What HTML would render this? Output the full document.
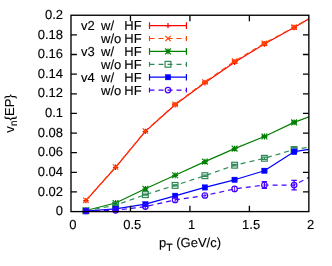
<!DOCTYPE html><html><head><meta charset="utf-8"><style>html,body{margin:0;padding:0;background:#fff;}svg{display:block;will-change:transform;}text{text-rendering:geometricPrecision;stroke:#000;stroke-width:0.12px;font-family:"Liberation Sans",sans-serif;fill:#000;}</style></head><body>
<svg width="332" height="266" viewBox="0 0 332 266" font-size="13.0">
<rect width="332" height="266" fill="#fff"/>
<text x="63.0" y="215.30" text-anchor="end">0</text>
<text x="63.0" y="195.66" text-anchor="end">0.02</text>
<text x="63.0" y="176.03" text-anchor="end">0.04</text>
<text x="63.0" y="156.39" text-anchor="end">0.06</text>
<text x="63.0" y="136.76" text-anchor="end">0.08</text>
<text x="63.0" y="117.12" text-anchor="end">0.1</text>
<text x="63.0" y="97.49" text-anchor="end">0.12</text>
<text x="63.0" y="77.86" text-anchor="end">0.14</text>
<text x="63.0" y="58.22" text-anchor="end">0.16</text>
<text x="63.0" y="38.59" text-anchor="end">0.18</text>
<text x="63.0" y="18.95" text-anchor="end">0.2</text>
<text x="72.75" y="228.9" text-anchor="middle">0</text>
<text x="132.21" y="228.9" text-anchor="middle">0.5</text>
<text x="191.68" y="228.9" text-anchor="middle">1</text>
<text x="251.14" y="228.9" text-anchor="middle">1.5</text>
<text x="310.60" y="228.9" text-anchor="middle">2</text>
<text x="190" y="246.8" text-anchor="middle">p<tspan dy="4.3" font-size="10.40">T</tspan><tspan dy="-4.3"> (GeV/c)</tspan></text>
<text transform="translate(13.8,113.5) rotate(-90)" text-anchor="middle">v<tspan dy="3.3" font-size="10.40">n</tspan><tspan dy="-3.3">{EP}</tspan></text>
<text x="81" y="30.00">v2</text>
<text x="101" y="30.00">w/</text>
<text x="141.7" y="30.00" text-anchor="end">HF</text>
<path d="M149.5 25.60H186.4" stroke="#ff0000" stroke-width="1.2" fill="none"/>
<path d="M149.5 22.30v6.6M186.4 22.30v6.6" stroke="#ff0000" stroke-width="1.2" fill="none"/>
<path d="M165.30 25.60H170.70M168.00 22.90V28.30" stroke="#ff0000" stroke-width="1.2" fill="none"/>
<text x="101" y="42.90">w/o</text>
<text x="141.7" y="42.90" text-anchor="end">HF</text>
<path d="M149.5 38.50H186.4" stroke="#ff4500" stroke-width="1.2" fill="none" stroke-dasharray="5 4"/>
<path d="M149.5 36.10v4.8M186.4 36.10v4.8" stroke="#ff4500" stroke-width="1.2" fill="none"/>
<path d="M165.30 35.80L170.70 41.20M165.30 41.20L170.70 35.80" stroke="#ff4500" stroke-width="1.2" fill="none"/>
<text x="81" y="55.80">v3</text>
<text x="101" y="55.80">w/</text>
<text x="141.7" y="55.80" text-anchor="end">HF</text>
<path d="M149.5 51.40H186.4" stroke="#008000" stroke-width="1.2" fill="none"/>
<path d="M149.5 48.10v6.6M186.4 48.10v6.6" stroke="#008000" stroke-width="1.2" fill="none"/>
<path d="M165.10 51.40H170.90M168.00 48.50V54.30M165.10 48.50L170.90 54.30M165.10 54.30L170.90 48.50" stroke="#008000" stroke-width="1.2" fill="none"/>
<text x="101" y="68.70">w/o</text>
<text x="141.7" y="68.70" text-anchor="end">HF</text>
<path d="M149.5 64.30H186.4" stroke="#2e8b57" stroke-width="1.2" fill="none" stroke-dasharray="5 4"/>
<path d="M149.5 61.90v4.8M186.4 61.90v4.8" stroke="#2e8b57" stroke-width="1.2" fill="none"/>
<rect x="165.10" y="61.40" width="5.80" height="5.80" stroke="#2e8b57" stroke-width="1.2" fill="none"/>
<text x="81" y="81.60">v4</text>
<text x="101" y="81.60">w/</text>
<text x="141.7" y="81.60" text-anchor="end">HF</text>
<path d="M149.5 77.20H186.4" stroke="#0000ff" stroke-width="1.2" fill="none"/>
<path d="M149.5 73.90v6.6M186.4 73.90v6.6" stroke="#0000ff" stroke-width="1.2" fill="none"/>
<rect x="165.25" y="74.45" width="5.50" height="5.50" stroke="#0000ff" stroke-width="0.3" fill="#0000ff"/>
<text x="101" y="94.50">w/o</text>
<text x="141.7" y="94.50" text-anchor="end">HF</text>
<path d="M149.5 90.10H186.4" stroke="#4400ff" stroke-width="1.2" fill="none" stroke-dasharray="5 4"/>
<path d="M149.5 87.70v4.8M186.4 87.70v4.8" stroke="#4400ff" stroke-width="1.2" fill="none"/>
<circle cx="168.00" cy="90.10" r="2.75" stroke="#4400ff" stroke-width="1.2" fill="none"/>
<clipPath id="c"><rect x="71.0" y="15.25" width="237.85000000000002" height="200.35"/></clipPath>
<g clip-path="url(#c)">
<polyline points="85.90,200.60 115.60,167.30 145.40,131.40 175.10,104.70 204.90,82.70 234.60,62.20 264.40,44.00 294.10,27.50 309.00,18.80" stroke="#ff0000" stroke-width="1.2" fill="none" stroke-linejoin="round"/>
<path d="M83.20 200.60H88.60M85.90 197.90V203.30" stroke="#ff0000" stroke-width="1.2" fill="none"/>
<path d="M112.90 167.30H118.30M115.60 164.60V170.00" stroke="#ff0000" stroke-width="1.2" fill="none"/>
<path d="M142.70 131.40H148.10M145.40 128.70V134.10" stroke="#ff0000" stroke-width="1.2" fill="none"/>
<path d="M175.10 104.10V105.30M172.40 104.10h5.4M172.40 105.30h5.4" stroke="#ff0000" stroke-width="1.2" fill="none"/>
<path d="M172.40 104.70H177.80M175.10 102.00V107.40" stroke="#ff0000" stroke-width="1.2" fill="none"/>
<path d="M204.90 82.00V83.40M202.20 82.00h5.4M202.20 83.40h5.4" stroke="#ff0000" stroke-width="1.2" fill="none"/>
<path d="M202.20 82.70H207.60M204.90 80.00V85.40" stroke="#ff0000" stroke-width="1.2" fill="none"/>
<path d="M234.60 61.30V63.10M231.90 61.30h5.4M231.90 63.10h5.4" stroke="#ff0000" stroke-width="1.2" fill="none"/>
<path d="M231.90 62.20H237.30M234.60 59.50V64.90" stroke="#ff0000" stroke-width="1.2" fill="none"/>
<path d="M264.40 42.90V45.10M261.70 42.90h5.4M261.70 45.10h5.4" stroke="#ff0000" stroke-width="1.2" fill="none"/>
<path d="M261.70 44.00H267.10M264.40 41.30V46.70" stroke="#ff0000" stroke-width="1.2" fill="none"/>
<path d="M294.10 26.00V29.00M291.40 26.00h5.4M291.40 29.00h5.4" stroke="#ff0000" stroke-width="1.2" fill="none"/>
<path d="M291.40 27.50H296.80M294.10 24.80V30.20" stroke="#ff0000" stroke-width="1.2" fill="none"/>
<polyline points="85.90,200.30 115.60,167.00 145.40,131.00 175.10,104.30 204.90,82.00 234.60,61.20 264.40,43.30 294.10,27.20 309.00,18.60" stroke="#ff4500" stroke-width="1.2" fill="none" stroke-linejoin="round" stroke-dasharray="5 4"/>
<path d="M83.20 197.60L88.60 203.00M83.20 203.00L88.60 197.60" stroke="#ff4500" stroke-width="1.2" fill="none"/>
<path d="M112.90 164.30L118.30 169.70M112.90 169.70L118.30 164.30" stroke="#ff4500" stroke-width="1.2" fill="none"/>
<path d="M142.70 128.30L148.10 133.70M142.70 133.70L148.10 128.30" stroke="#ff4500" stroke-width="1.2" fill="none"/>
<path d="M175.10 103.70V104.90M172.40 103.70h5.4M172.40 104.90h5.4" stroke="#ff4500" stroke-width="1.2" fill="none"/>
<path d="M172.40 101.60L177.80 107.00M172.40 107.00L177.80 101.60" stroke="#ff4500" stroke-width="1.2" fill="none"/>
<path d="M204.90 81.30V82.70M202.20 81.30h5.4M202.20 82.70h5.4" stroke="#ff4500" stroke-width="1.2" fill="none"/>
<path d="M202.20 79.30L207.60 84.70M202.20 84.70L207.60 79.30" stroke="#ff4500" stroke-width="1.2" fill="none"/>
<path d="M234.60 60.30V62.10M231.90 60.30h5.4M231.90 62.10h5.4" stroke="#ff4500" stroke-width="1.2" fill="none"/>
<path d="M231.90 58.50L237.30 63.90M231.90 63.90L237.30 58.50" stroke="#ff4500" stroke-width="1.2" fill="none"/>
<path d="M264.40 42.20V44.40M261.70 42.20h5.4M261.70 44.40h5.4" stroke="#ff4500" stroke-width="1.2" fill="none"/>
<path d="M261.70 40.60L267.10 46.00M261.70 46.00L267.10 40.60" stroke="#ff4500" stroke-width="1.2" fill="none"/>
<path d="M294.10 25.70V28.70M291.40 25.70h5.4M291.40 28.70h5.4" stroke="#ff4500" stroke-width="1.2" fill="none"/>
<path d="M291.40 24.50L296.80 29.90M291.40 29.90L296.80 24.50" stroke="#ff4500" stroke-width="1.2" fill="none"/>
<polyline points="85.90,210.50 115.60,203.00 145.40,188.80 175.10,175.30 204.90,161.60 234.60,148.60 264.40,136.50 294.10,122.40 309.00,116.90" stroke="#008000" stroke-width="1.2" fill="none" stroke-linejoin="round"/>
<path d="M83.00 210.50H88.80M85.90 207.60V213.40M83.00 207.60L88.80 213.40M83.00 213.40L88.80 207.60" stroke="#008000" stroke-width="1.2" fill="none"/>
<path d="M112.70 203.00H118.50M115.60 200.10V205.90M112.70 200.10L118.50 205.90M112.70 205.90L118.50 200.10" stroke="#008000" stroke-width="1.2" fill="none"/>
<path d="M142.50 188.80H148.30M145.40 185.90V191.70M142.50 185.90L148.30 191.70M142.50 191.70L148.30 185.90" stroke="#008000" stroke-width="1.2" fill="none"/>
<path d="M172.20 175.30H178.00M175.10 172.40V178.20M172.20 172.40L178.00 178.20M172.20 178.20L178.00 172.40" stroke="#008000" stroke-width="1.2" fill="none"/>
<path d="M202.00 161.60H207.80M204.90 158.70V164.50M202.00 158.70L207.80 164.50M202.00 164.50L207.80 158.70" stroke="#008000" stroke-width="1.2" fill="none"/>
<path d="M231.70 148.60H237.50M234.60 145.70V151.50M231.70 145.70L237.50 151.50M231.70 151.50L237.50 145.70" stroke="#008000" stroke-width="1.2" fill="none"/>
<path d="M264.40 135.60V137.40M261.70 135.60h5.4M261.70 137.40h5.4" stroke="#008000" stroke-width="1.2" fill="none"/>
<path d="M261.50 136.50H267.30M264.40 133.60V139.40M261.50 133.60L267.30 139.40M261.50 139.40L267.30 133.60" stroke="#008000" stroke-width="1.2" fill="none"/>
<path d="M294.10 121.10V123.70M291.40 121.10h5.4M291.40 123.70h5.4" stroke="#008000" stroke-width="1.2" fill="none"/>
<path d="M291.20 122.40H297.00M294.10 119.50V125.30M291.20 119.50L297.00 125.30M291.20 125.30L297.00 119.50" stroke="#008000" stroke-width="1.2" fill="none"/>
<polyline points="85.90,210.80 115.60,205.20 145.40,194.60 175.10,185.40 204.90,175.70 234.60,165.20 264.40,158.30 294.10,149.50 309.00,147.20" stroke="#2e8b57" stroke-width="1.2" fill="none" stroke-linejoin="round" stroke-dasharray="5 4"/>
<path d="M85.90 210.40V211.20M83.20 210.40h5.4M83.20 211.20h5.4" stroke="#2e8b57" stroke-width="1.2" fill="none"/>
<rect x="83.00" y="207.90" width="5.80" height="5.80" stroke="#2e8b57" stroke-width="1.2" fill="none"/>
<path d="M115.60 204.70V205.70M112.90 204.70h5.4M112.90 205.70h5.4" stroke="#2e8b57" stroke-width="1.2" fill="none"/>
<rect x="112.70" y="202.30" width="5.80" height="5.80" stroke="#2e8b57" stroke-width="1.2" fill="none"/>
<path d="M145.40 194.00V195.20M142.70 194.00h5.4M142.70 195.20h5.4" stroke="#2e8b57" stroke-width="1.2" fill="none"/>
<rect x="142.50" y="191.70" width="5.80" height="5.80" stroke="#2e8b57" stroke-width="1.2" fill="none"/>
<path d="M175.10 184.80V186.00M172.40 184.80h5.4M172.40 186.00h5.4" stroke="#2e8b57" stroke-width="1.2" fill="none"/>
<rect x="172.20" y="182.50" width="5.80" height="5.80" stroke="#2e8b57" stroke-width="1.2" fill="none"/>
<path d="M204.90 175.00V176.40M202.20 175.00h5.4M202.20 176.40h5.4" stroke="#2e8b57" stroke-width="1.2" fill="none"/>
<rect x="202.00" y="172.80" width="5.80" height="5.80" stroke="#2e8b57" stroke-width="1.2" fill="none"/>
<path d="M234.60 164.40V166.00M231.90 164.40h5.4M231.90 166.00h5.4" stroke="#2e8b57" stroke-width="1.2" fill="none"/>
<rect x="231.70" y="162.30" width="5.80" height="5.80" stroke="#2e8b57" stroke-width="1.2" fill="none"/>
<path d="M264.40 157.20V159.40M261.70 157.20h5.4M261.70 159.40h5.4" stroke="#2e8b57" stroke-width="1.2" fill="none"/>
<rect x="261.50" y="155.40" width="5.80" height="5.80" stroke="#2e8b57" stroke-width="1.2" fill="none"/>
<path d="M294.10 147.70V151.30M291.40 147.70h5.4M291.40 151.30h5.4" stroke="#2e8b57" stroke-width="1.2" fill="none"/>
<rect x="291.20" y="146.60" width="5.80" height="5.80" stroke="#2e8b57" stroke-width="1.2" fill="none"/>
<polyline points="85.90,211.00 115.60,208.80 145.40,204.20 175.10,195.80 204.90,187.40 234.60,179.80 264.40,170.80 294.10,151.70 309.00,149.30" stroke="#0000ff" stroke-width="1.2" fill="none" stroke-linejoin="round"/>
<rect x="83.15" y="208.25" width="5.50" height="5.50" stroke="#0000ff" stroke-width="0.3" fill="#0000ff"/>
<rect x="112.85" y="206.05" width="5.50" height="5.50" stroke="#0000ff" stroke-width="0.3" fill="#0000ff"/>
<rect x="142.65" y="201.45" width="5.50" height="5.50" stroke="#0000ff" stroke-width="0.3" fill="#0000ff"/>
<rect x="172.35" y="193.05" width="5.50" height="5.50" stroke="#0000ff" stroke-width="0.3" fill="#0000ff"/>
<rect x="202.15" y="184.65" width="5.50" height="5.50" stroke="#0000ff" stroke-width="0.3" fill="#0000ff"/>
<rect x="231.85" y="177.05" width="5.50" height="5.50" stroke="#0000ff" stroke-width="0.3" fill="#0000ff"/>
<path d="M264.40 169.60V172.00M261.70 169.60h5.4M261.70 172.00h5.4" stroke="#0000ff" stroke-width="1.2" fill="none"/>
<rect x="261.65" y="168.05" width="5.50" height="5.50" stroke="#0000ff" stroke-width="0.3" fill="#0000ff"/>
<path d="M294.10 149.40V154.00M291.40 149.40h5.4M291.40 154.00h5.4" stroke="#0000ff" stroke-width="1.2" fill="none"/>
<rect x="291.35" y="148.95" width="5.50" height="5.50" stroke="#0000ff" stroke-width="0.3" fill="#0000ff"/>
<polyline points="85.90,211.00 115.60,210.30 145.40,206.60 175.10,199.90 204.90,195.50 234.60,188.90 264.40,185.00 294.10,185.10 309.00,177.30" stroke="#4400ff" stroke-width="1.2" fill="none" stroke-linejoin="round" stroke-dasharray="5 4"/>
<path d="M85.90 208.60V213.40" stroke="#4400ff" stroke-width="0.9" fill="none"/>
<circle cx="85.90" cy="211.00" r="2.75" stroke="#4400ff" stroke-width="1.2" fill="none"/>
<path d="M115.60 207.90V212.70" stroke="#4400ff" stroke-width="0.9" fill="none"/>
<circle cx="115.60" cy="210.30" r="2.75" stroke="#4400ff" stroke-width="1.2" fill="none"/>
<path d="M145.40 204.20V209.00" stroke="#4400ff" stroke-width="0.9" fill="none"/>
<circle cx="145.40" cy="206.60" r="2.75" stroke="#4400ff" stroke-width="1.2" fill="none"/>
<path d="M175.10 197.50V202.30" stroke="#4400ff" stroke-width="0.9" fill="none"/>
<circle cx="175.10" cy="199.90" r="2.75" stroke="#4400ff" stroke-width="1.2" fill="none"/>
<path d="M204.90 193.10V197.90" stroke="#4400ff" stroke-width="0.9" fill="none"/>
<circle cx="204.90" cy="195.50" r="2.75" stroke="#4400ff" stroke-width="1.2" fill="none"/>
<path d="M234.60 186.50V191.30" stroke="#4400ff" stroke-width="0.9" fill="none"/>
<circle cx="234.60" cy="188.90" r="2.75" stroke="#4400ff" stroke-width="1.2" fill="none"/>
<path d="M264.40 181.60V188.40M261.70 181.60h5.4M261.70 188.40h5.4" stroke="#4400ff" stroke-width="1.2" fill="none"/>
<circle cx="264.40" cy="185.00" r="2.75" stroke="#4400ff" stroke-width="1.2" fill="none"/>
<path d="M294.10 180.40V189.80M291.40 180.40h5.4M291.40 189.80h5.4" stroke="#4400ff" stroke-width="1.2" fill="none"/>
<circle cx="294.10" cy="185.10" r="2.75" stroke="#4400ff" stroke-width="1.2" fill="none"/>
</g>
<path d="M71.0 191.97h5.9M308.85 191.97h-5.9M71.0 172.33h5.9M308.85 172.33h-5.9M71.0 152.69h5.9M308.85 152.69h-5.9M71.0 133.06h5.9M308.85 133.06h-5.9M71.0 113.42h5.9M308.85 113.42h-5.9M71.0 93.79h5.9M308.85 93.79h-5.9M71.0 74.16h5.9M308.85 74.16h-5.9M71.0 54.52h5.9M308.85 54.52h-5.9M71.0 34.89h5.9M308.85 34.89h-5.9M130.46 211.6v-5.9M130.46 15.25v5.9M189.93 211.6v-5.9M189.93 15.25v5.9M249.39 211.6v-5.9M249.39 15.25v5.9" stroke="#000" stroke-width="1.3" fill="none"/>
<rect x="71.0" y="15.25" width="237.85000000000002" height="196.35" stroke="#000" stroke-width="1.35" fill="none"/>
</svg></body></html>
